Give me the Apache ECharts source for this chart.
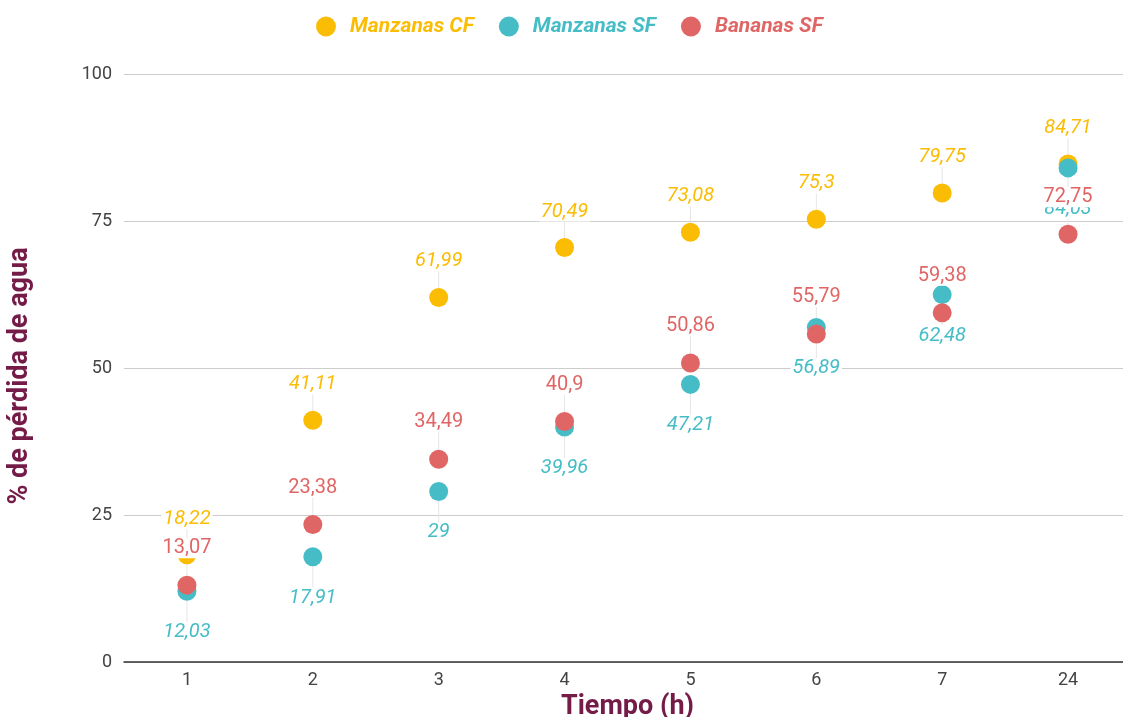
<!DOCTYPE html>
<html>
<head>
<meta charset="utf-8">
<script src="https://cdn.jsdelivr.net/npm/echarts@6/dist/echarts.min.js"></script>
<style>
  html, body { margin: 0; padding: 0; background: #fff; }
  #chart { width: 1123px; height: 717px; }
</style>
</head>
<body>
<div id="chart"></div>
<script>
// Hours of drying (category axis)
const categories = ['1', '2', '3', '4', '5', '6', '7', '24'];
// % water loss per sample
const manzanasCF = [18.22, 41.11, 61.99, 70.49, 73.08, 75.3, 79.75, 84.71];
const manzanasSF = [12.03, 17.91, 29, 39.96, 47.21, 56.89, 62.48, 84.03];
const bananasSF = [13.07, 23.38, 34.49, 40.9, 50.86, 55.79, 59.38, 72.75];
// Y axis ticks
const yTicks = [0, 25, 50, 75, 100];

const COLORS = {
  'Manzanas CF': '#FBBC04',
  'Manzanas SF': '#46BDC6',
  'Bananas SF': '#E06666'
};
const FONT = 'Roboto, "Noto Sans", sans-serif';

const fmt = p => String(p.value[1]).replace('.', ',');

function makeSeries(name, values, dy, italic) {
  const color = COLORS[name];
  return {
    name: name,
    type: 'scatter',
    symbol: 'circle',
    symbolSize: 19,
    itemStyle: { color: color, opacity: 1 },
    data: values.map((v, i) => [categories[i], v]),
    label: {
      show: true,
      position: 'inside',
      formatter: fmt,
      color: color,
      fontFamily: FONT,
      fontSize: 20,
      fontStyle: italic ? 'italic' : 'normal',
      backgroundColor: '#fff',
      padding: [0, 2]
    },
    labelLayout: { dy: dy },
    labelLine: { show: true, lineStyle: { color: '#e6e6e6', width: 1 } },
    emphasis: { disabled: true }
  };
}

const chart = echarts.init(document.getElementById('chart'), null, { renderer: 'canvas' });
chart.setOption({
  animation: false,
  backgroundColor: '#fff',
  textStyle: { fontFamily: FONT },
  legend: {
    left: 311,
    top: 11,
    itemWidth: 38,
    itemHeight: 20,
    itemGap: 25,
    icon: 'circle',
    data: Object.keys(COLORS).map(n => ({
      name: n,
      textStyle: { color: COLORS[n] }
    })),
    textStyle: {
      fontFamily: FONT,
      fontSize: 21,
      fontWeight: 'bold',
      fontStyle: 'italic'
    }
  },
  grid: { left: 124, top: 74, width: 1007, height: 588, outerBoundsMode: 'none', containLabel: false },
  xAxis: {
    type: 'category',
    data: categories,
    boundaryGap: true,
    name: 'Tiempo (h)',
    nameLocation: 'middle',
    nameGap: 20,
    nameTextStyle: { fontFamily: FONT, fontSize: 27, fontWeight: 'bold', color: '#741B47' },
    axisLine: { show: true, lineStyle: { color: '#333', width: 1.5 } },
    axisTick: { show: false },
    axisLabel: { color: '#444', fontSize: 18, margin: 9, fontFamily: FONT },
    splitLine: { show: false }
  },
  yAxis: {
    type: 'value',
    min: yTicks[0],
    max: yTicks[yTicks.length - 1],
    interval: yTicks[1] - yTicks[0],
    name: '% de pérdida de agua',
    nameLocation: 'middle',
    nameGap: 90,
    nameTextStyle: {
      fontFamily: FONT, fontSize: 27, fontWeight: 'bold', color: '#741B47',
      padding: [0, 16, 0, 0]
    },
    axisLine: { show: false },
    axisTick: { show: false },
    axisLabel: { color: '#444', fontSize: 18, margin: 12, fontFamily: FONT },
    splitLine: { show: true, lineStyle: { color: '#cccccc', width: 1 } }
  },
  series: [
    makeSeries('Manzanas CF', manzanasCF, -36, true),
    makeSeries('Manzanas SF', manzanasSF, 41, true),
    makeSeries('Bananas SF', bananasSF, -37, false)
  ]
});
</script>
</body>
</html>
